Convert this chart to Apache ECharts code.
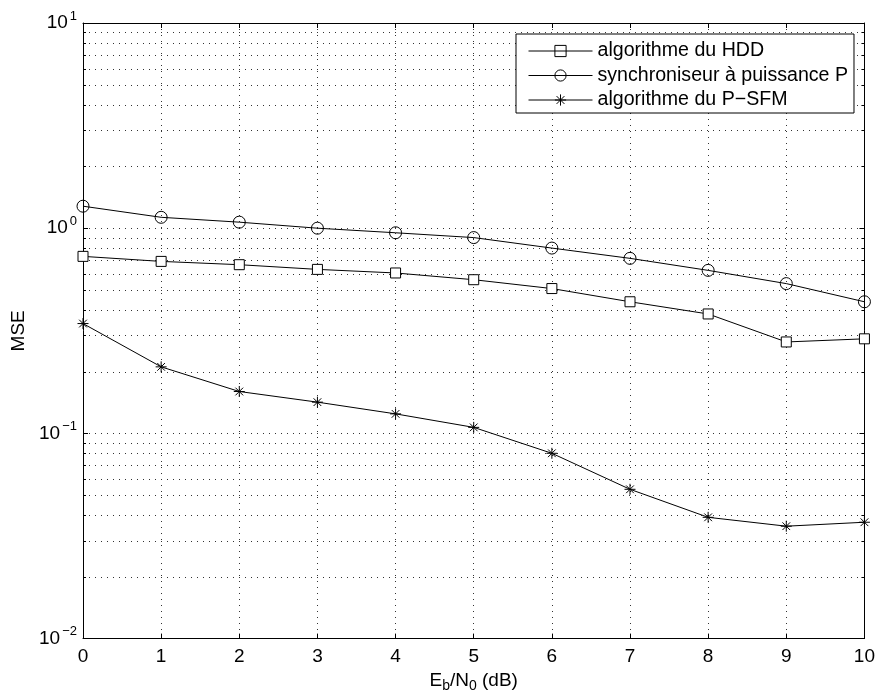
<!DOCTYPE html>
<html>
<head>
<meta charset="utf-8">
<script src="https://cdn.jsdelivr.net/npm/echarts@6/dist/echarts.min.js"></script>
<style>html,body{margin:0;padding:0;background:#fff;}#c{width:878px;height:698px;}</style>
</head>
<body>
<div id="c"></div>
<script>
var ebn0 = [0, 1, 2, 3, 4, 5, 6, 7, 8, 9, 10];
var hddMSE = [0.729, 0.689, 0.664, 0.630, 0.605, 0.561, 0.508, 0.438, 0.382, 0.279, 0.289];
var powerMSE = [1.28, 1.13, 1.07, 1.00, 0.95, 0.90, 0.80, 0.713, 0.623, 0.537, 0.438];
var psfmMSE = [0.343, 0.211, 0.160, 0.142, 0.1245, 0.107, 0.080, 0.0534, 0.039, 0.0353, 0.0369];
var seriesNames = ['algorithme du HDD', 'synchroniseur à puissance P', 'algorithme du P\u2212SFM'];
var minorYValues = [0.02,0.03,0.04,0.05,0.06,0.07,0.08,0.09,0.2,0.3,0.4,0.5,0.6,0.7,0.8,0.9,2,3,4,5,6,7,8,9];

var FONT = 'Liberation Sans, Arial, Helvetica, sans-serif';
var asterisk = 'path://M5,0L5,10M0,5L10,5M1.5,1.5L8.5,8.5M8.5,1.5L1.5,8.5';

function pair(x, y) { return x.map(function (v, i) { return [v, y[i]]; }); }

var chart = echarts.init(document.getElementById('c'), null, {renderer: 'canvas'});

function yFmt(v) {
  var e = Math.round(Math.log10(v));
  var s = e < 0 ? '\u2212' + (-e) : String(e);
  return '{b|10}{e|' + s + '}';
}

var dotted = {color: '#333', width: 1, type: [1, 5]};

var option = {
  animation: false,
  backgroundColor: '#fff',
  grid: {left: 83, right: 12, top: 23, bottom: 59, show: false},
  legend: {
    data: seriesNames,
    orient: 'vertical',
    left: 516, top: 34,
    backgroundColor: '#fff',
    borderColor: '#000', borderWidth: 1, borderRadius: 0,
    padding: [7, 6, 3, 12],
    itemWidth: 64, itemHeight: 14, itemGap: 4.5,
    lineStyle: {width: 1, color: '#000'},
    itemStyle: {borderWidth: 1, borderColor: '#000', color: 'transparent'},
    textStyle: {fontFamily: FONT, fontSize: 19.6, lineHeight: 20, color: '#000'},
    selectedMode: false
  },
  xAxis: [{
    type: 'value', min: 0, max: 10, interval: 1,
    axisLine: {show: true, onZero: false, lineStyle: {color: '#000', width: 1}},
    axisTick: {show: true, inside: true, length: 5, lineStyle: {color: '#000'}},
    axisLabel: {fontFamily: FONT, fontSize: 19, color: '#000', margin: 9},
    splitLine: {show: true, lineStyle: dotted},
    name: '{n|E}{s|b}{n|/N}{s|0}{n| (dB)}',
    nameLocation: 'middle', nameGap: 22,
    nameTextStyle: {
      rich: {
        n: {fontFamily: FONT, fontSize: 19, color: '#000'},
        s: {fontFamily: FONT, fontSize: 14, color: '#000', padding: [10, 0, 0, 0]}
      }
    }
  }, {
    type: 'value', min: 0, max: 10, interval: 1, position: 'top',
    axisLine: {show: true, onZero: false, lineStyle: {color: '#000', width: 1}},
    axisTick: {show: true, inside: true, length: 5, lineStyle: {color: '#000'}},
    axisLabel: {show: false}, splitLine: {show: false}
  }],
  yAxis: [{
    type: 'log', logBase: 10, min: 0.01, max: 10,
    axisLine: {show: true, onZero: false, lineStyle: {color: '#000', width: 1}},
    axisTick: {show: true, inside: true, length: 5, lineStyle: {color: '#000'}},
    axisLabel: {
      formatter: yFmt, margin: 6,
      rich: {
        b: {fontFamily: FONT, fontSize: 19, color: '#000'},
        e: {fontFamily: FONT, fontSize: 13, color: '#000', padding: [0, 0, 14, 2]}
      }
    },
    splitLine: {show: true, lineStyle: dotted},
    name: 'MSE', nameLocation: 'middle', nameGap: 54, nameRotate: 90,
    nameTextStyle: {fontFamily: FONT, fontSize: 19, color: '#000'}
  }, {
    type: 'log', logBase: 10, min: 0.01, max: 10, position: 'right',
    axisLine: {show: true, onZero: false, lineStyle: {color: '#000', width: 1}},
    axisTick: {show: true, inside: true, length: 5, lineStyle: {color: '#000'}},
    axisLabel: {show: false}, splitLine: {show: false}
  }],
  series: [{
    type: 'custom',
    silent: true,
    z: 1,
    data: minorYValues.map(function (v) { return [0, v]; }),
    renderItem: function (params, api) {
      var cs = params.coordSys;
      var p = api.coord([0, api.value(1)]);
      var y = Math.round(p[1]) + 0.5;
      return {
        type: 'group',
        children: [
          {type: 'line', shape: {x1: cs.x, y1: y, x2: cs.x + cs.width, y2: y}, style: {stroke: '#333', lineWidth: 1, lineDash: [1, 5]}},
          {type: 'line', shape: {x1: cs.x, y1: y, x2: cs.x + 3, y2: y}, style: {stroke: '#000', lineWidth: 1}},
          {type: 'line', shape: {x1: cs.x + cs.width - 3, y1: y, x2: cs.x + cs.width, y2: y}, style: {stroke: '#000', lineWidth: 1}}
        ]
      };
    }
  }, {
    name: seriesNames[0], type: 'line', data: pair(ebn0, hddMSE),
    symbol: 'rect', symbolSize: 10, showAllSymbol: true, z: 5,
    lineStyle: {color: '#000', width: 1},
    itemStyle: {color: '#fff', borderColor: '#000', borderWidth: 1}
  }, {
    name: seriesNames[1], type: 'line', data: pair(ebn0, powerMSE),
    symbol: 'circle', symbolSize: 12, showAllSymbol: true, z: 5,
    lineStyle: {color: '#000', width: 1},
    itemStyle: {color: 'transparent', borderColor: '#000', borderWidth: 1}
  }, {
    name: seriesNames[2], type: 'line', data: pair(ebn0, psfmMSE),
    symbol: asterisk, symbolSize: 11, showAllSymbol: true, z: 5,
    lineStyle: {color: '#000', width: 1},
    itemStyle: {color: 'transparent', borderColor: '#000', borderWidth: 1}
  }]
};
chart.setOption(option);
</script>
</body>
</html>
